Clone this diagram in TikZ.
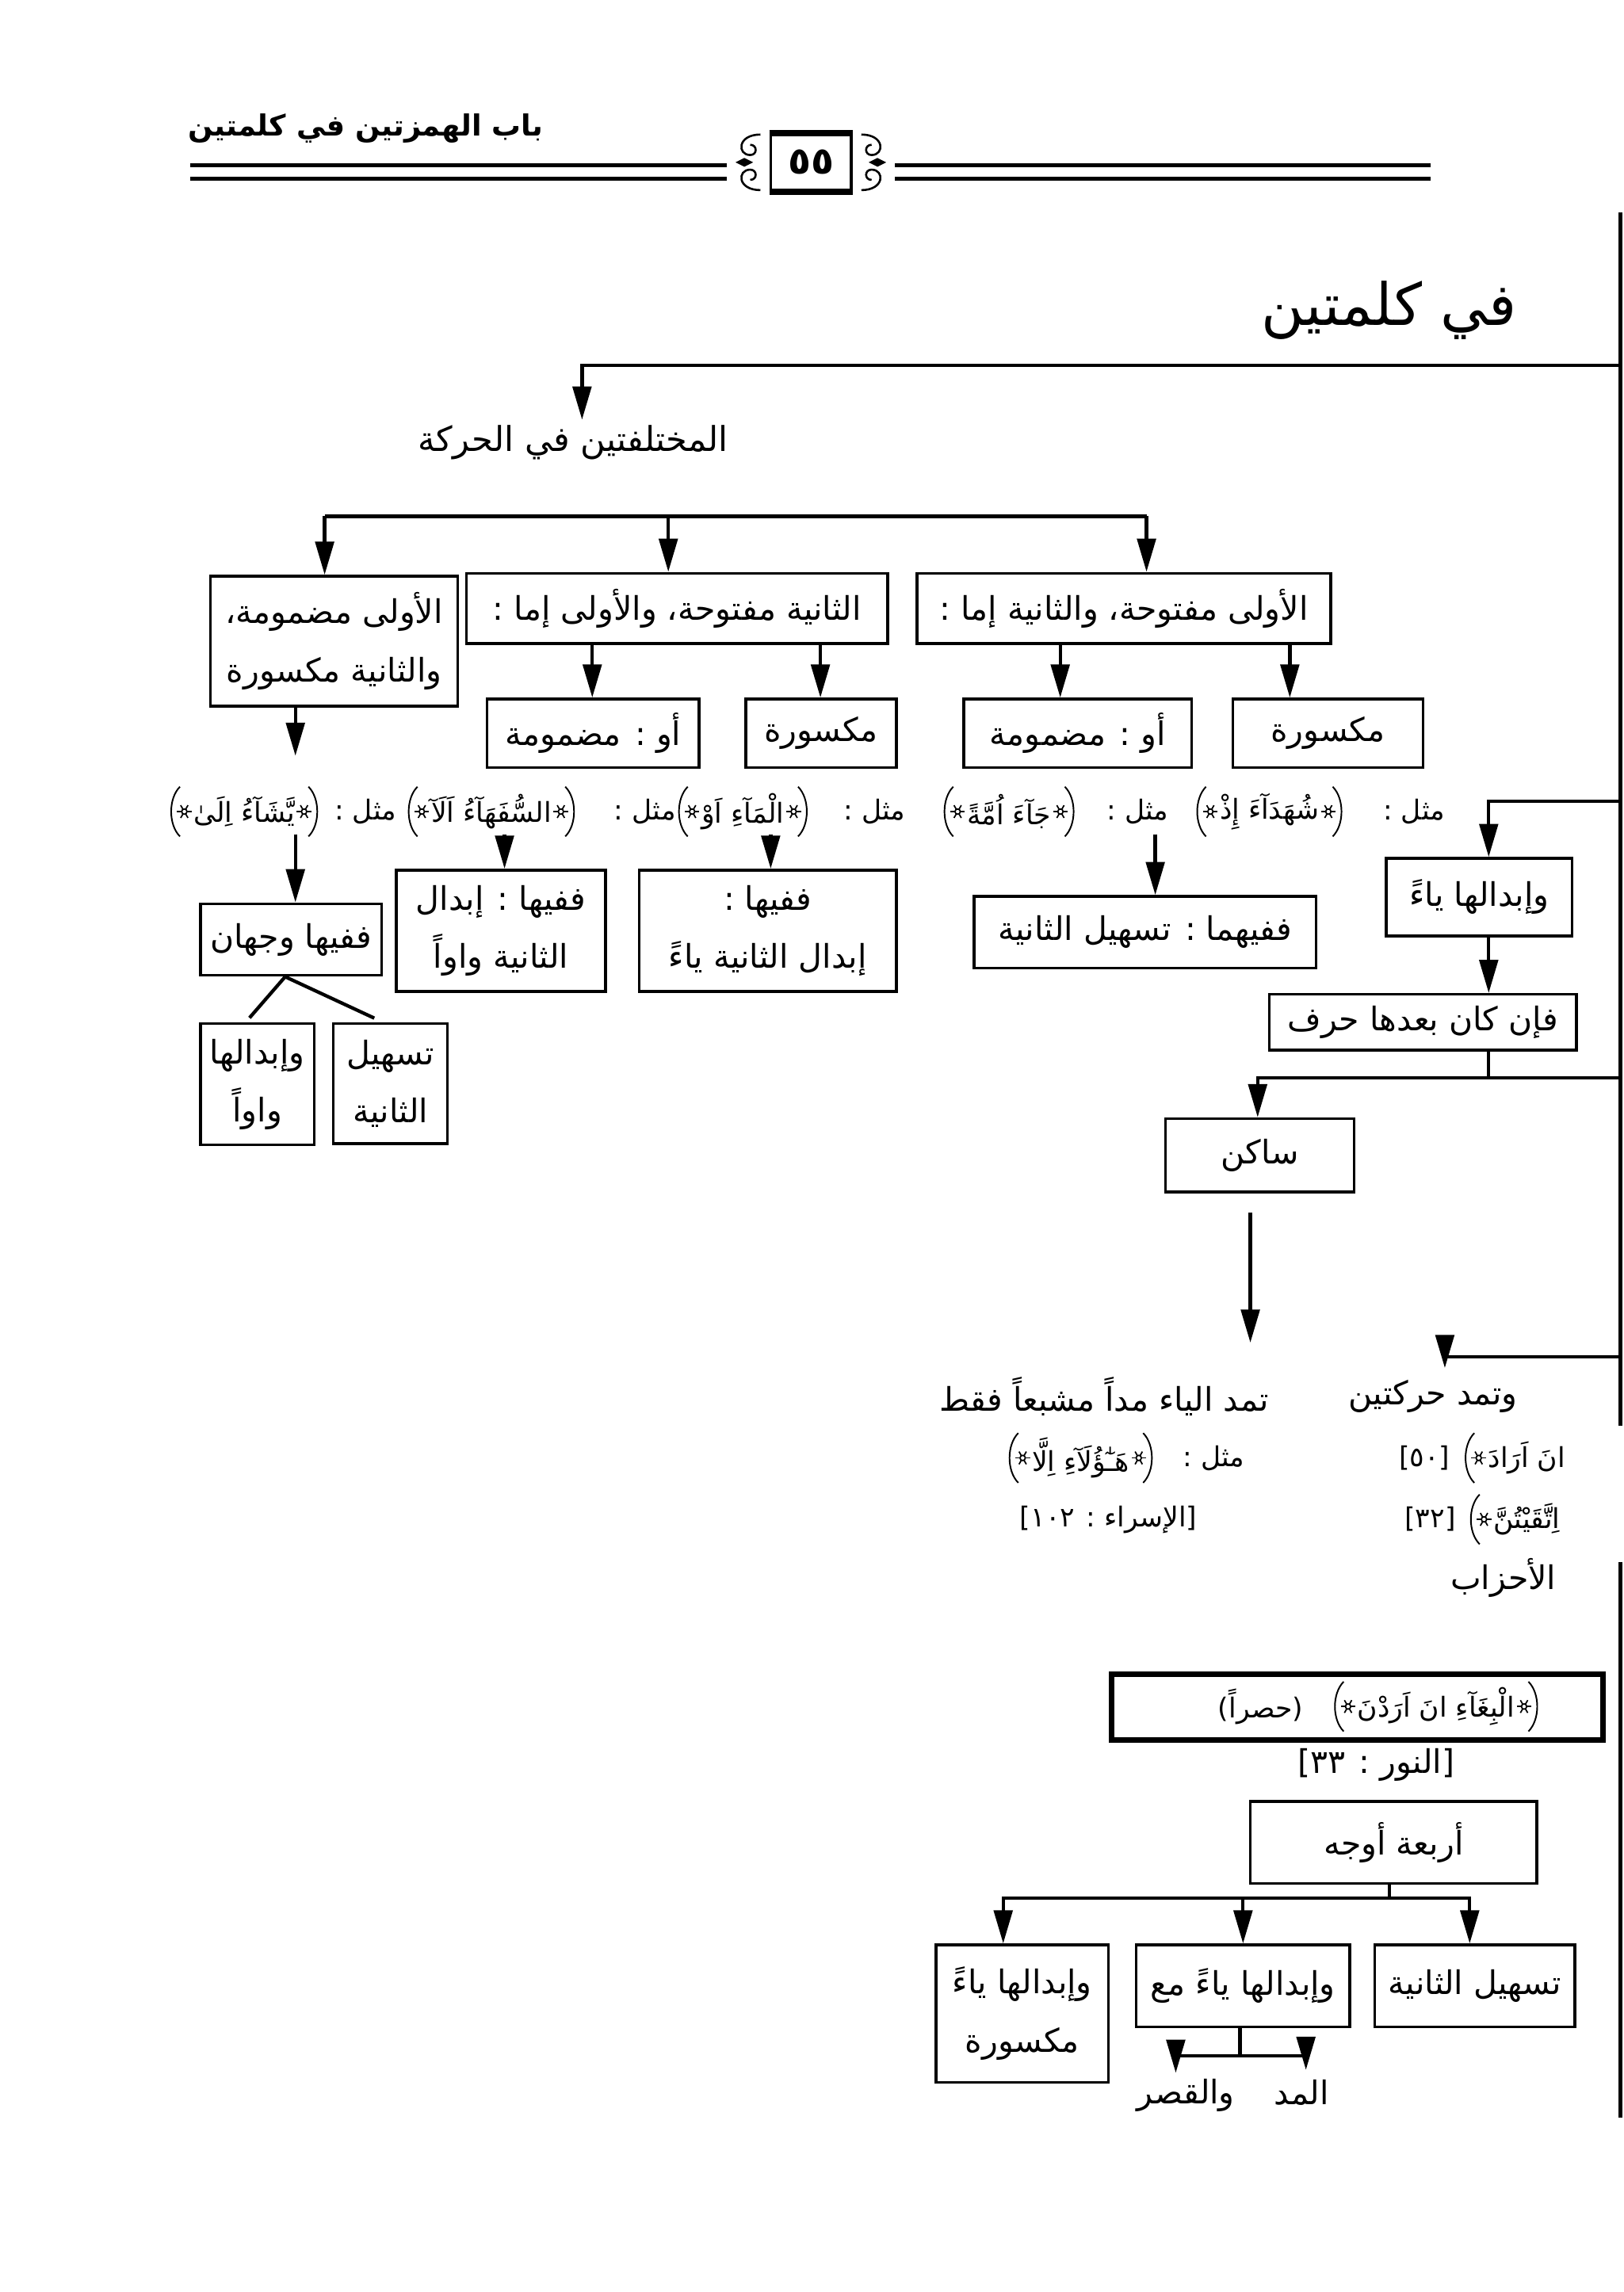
\documentclass[tikz,border=0pt]{standalone}
\usepackage{fontspec}
\usetikzlibrary{arrows.meta}
\TeXXeTstate=1
\newfontfamily\arabicfont[Script=Arabic]{DejaVu Sans}
\newcommand{\ara}[1]{\beginR #1\endR}

\begin{document}
\begin{tikzpicture}[x=0.15mm, y=-0.15mm,
        box/.style={draw, line width=0.8pt, inner sep=1pt, align=center, font=\arabicfont\fontsize{9.5}{17}\selectfont},
        thickbox/.style={box, line width=1.6pt},
        lbl/.style={inner sep=0pt, minimum height=4.5mm, align=center, font=\arabicfont\fontsize{9.5}{16}\selectfont},
        exlbl/.style={lbl, font=\arabicfont\fontsize{8}{12}\selectfont},
        qnode/.style={exlbl, inner xsep=1.8mm},
        arr/.style={-{Triangle[length=3.4mm, width=1.9mm]}, line width=1pt},
        link/.style={line width=1pt},
        % ornate Quran bracket, drawn as a shape
        qbrak/.pic={
            \draw[line width=0.45pt] (3,-17) .. controls (-5,-9) and (-5,9) .. (3,17);
            \draw[line width=0.4pt] (6,0) circle (1.8);
            \foreach \a in {0,60,...,300}
                \draw[line width=0.4pt] (6,0) ++(\a:1.8) -- ++(\a:3.2);
        }
    ]
    \useasboundingbox (0,0) rectangle (1110,1567.4);

    % page header
    \node[inner sep=0pt, anchor=east, font=\arabicfont\bfseries\fontsize{8.5}{11}\selectfont] (head) at (372,88) {\ara{باب الهمزتين في كلمتين}};
    \draw[line width=1.1pt] (130,113) -- (497,113) (130,122) -- (497,122)
        (612,113) -- (978,113) (612,122) -- (978,122);
    \node[draw, line width=0.8pt, minimum width=8.25mm, minimum height=5.7mm, font=\arabicfont\bfseries\fontsize{11}{13}\selectfont] (pnum) at (554.5,111) {\ara{٥٥}};
    \draw[line width=1.8pt] (pnum.north west) -- (pnum.north east) (pnum.south west) -- (pnum.south east);
    \foreach \ox/\s in {512/1, 597/-1}{
        \begin{scope}[shift={(\ox,111)}, xscale=\s, line width=0.6pt]
            \draw (8,-19) .. controls (-8,-19) and (-8,-5) .. (1,-5) .. controls (6,-5) and (6,-12) .. (1,-12);
            \draw (8,19) .. controls (-8,19) and (-8,5) .. (1,5) .. controls (6,5) and (6,12) .. (1,12);
            \fill (-9,0) -- (-3,-3) -- (3,0) -- (-3,3) -- cycle;
        \end{scope}
    }

    % right rule
    \coordinate (r1) at (1108,145);
    \coordinate (r2) at (1108,975);
    \coordinate (r3) at (1108,1068);
    \coordinate (r4) at (1108,1448);
    \draw[link] (r1) -- (r2) (r3) -- (r4);

    \node[inner sep=0pt, font=\arabicfont\fontsize{17}{20}\selectfont] (title) at (950,212) {\ara{في كلمتين}};

    % first level
    \node[lbl, anchor=north, font=\arabicfont\fontsize{10}{16}\selectfont] (mukh) at (392,287) {\ara{المختلفتين في الحركة}};
    \coordinate (j1) at (1108,250);
    \draw[arr] (j1) -| (mukh.north -| 398,0);

    \node[box, minimum width=42.45mm, minimum height=7.2mm] (afath) at (768.5,416) {\ara{الأولى مفتوحة، والثانية إما :}};
    \node[box, minimum width=43.2mm, minimum height=7.2mm] (tfath) at (463,416) {\ara{الثانية مفتوحة، والأولى إما :}};
    \node[box, minimum width=25.35mm, minimum height=13.35mm] (adamm) at (228.5,438.5) {\ara{الأولى مضمومة،}\\\ara{والثانية مكسورة}};

    \coordinate (bl) at (222,353);
    \coordinate (br) at (784,353);
    \draw[link] (bl) -- (br);
    \draw[arr] (bl) -- (bl |- adamm.north);
    \draw[arr] (bl -| 457,0) -- (tfath.north -| 457,0);
    \draw[arr] (br) -- (br |- afath.north);

    \node[box, minimum width=19.5mm, minimum height=7.05mm] (afathK) at (908,501.5) {\ara{مكسورة}};
    \node[box, minimum width=23.4mm, minimum height=7.05mm] (afathD) at (737,501.5) {\ara{أو : مضمومة}};
    \node[box, minimum width=15.45mm, minimum height=7.05mm] (tfathK) at (561.5,501.5) {\ara{مكسورة}};
    \node[box, minimum width=21.75mm, minimum height=7.05mm] (tfathD) at (405.5,501.5) {\ara{أو : مضمومة}};
    \draw[arr] (afath.south -| 882,0) -- (afathK.north -| 882,0);
    \draw[arr] (afath.south -| 725,0) -- (afathD.north -| 725,0);
    \draw[arr] (tfath.south -| 561,0) -- (tfathK.north -| 561,0);
    \draw[arr] (tfath.south -| 405,0) -- (tfathD.north -| 405,0);

    % examples
    \node[exlbl] (m1) at (967,555) {\ara{مثل :}};
    \node[qnode] (q1) at (868,555) {\ara{شُهَدَآءَ إِذْ}};
    \node[exlbl] (m2) at (778,555) {\ara{مثل :}};
    \node[qnode] (q2) at (690,555) {\ara{جَآءَ اُمَّةً}};
    \node[exlbl] (m3) at (598,555) {\ara{مثل :}};
    \node[qnode] (q3) at (508,555) {\ara{الْمَآءِ اَوْ}};
    \node[exlbl] (m4) at (441,555) {\ara{مثل :}};
    \node[qnode] (q4) at (336,555) {\ara{السُّفَهَآءُ اَلَآ}};
    \node[exlbl] (m5) at (250,555) {\ara{مثل :}};
    \node[qnode] (q5) at (167,555) {\ara{يَّشَآءُ اِلَىٰ}};
    \draw[arr, shorten >=3.4mm] (adamm.south -| 202,0) -- (q5.north -| 202,0);

    \node[box, minimum width=35.1mm, minimum height=7.35mm] (tashilA) at (783,637.5) {\ara{ففيهما : تسهيل الثانية}};
    \node[box, minimum width=26.4mm, minimum height=12.45mm] (ibdalY) at (525,636.5) {\ara{ففيها :}\\\ara{إبدال الثانية ياءً}};
    \node[box, minimum width=21.45mm, minimum height=12.45mm] (ibdalW) at (342.5,636.5) {\ara{ففيها : إبدال}\\\ara{الثانية واواً}};
    \node[box, minimum width=18.6mm, minimum height=7.35mm] (wajhan) at (199,642.5) {\ara{ففيها وجهان}};
    \draw[arr] (m2.south -| 790,0) -- (tashilA.north -| 790,0);
    \draw[arr] (q3.south -| 527,0) -- (ibdalY.north -| 527,0);
    \draw[arr] (q4.south -| 345,0) -- (ibdalW.north -| 345,0);
    \draw[arr] (q5.south -| 202,0) -- (wajhan.north -| 202,0);

    \node[box, minimum width=11.7mm, minimum height=12.45mm] (wajW) at (176,741.5) {\ara{وإبدالها}\\\ara{واواً}};
    \node[box, minimum width=11.7mm, minimum height=12.3mm] (wajT) at (267,741) {\ara{تسهيل}\\\ara{الثانية}};
    \draw[link, shorten >=0.6mm] (wajhan.south -| 195,0) -- (wajW.north -| 168,0);
    \draw[link, shorten >=1mm] (wajhan.south -| 195,0) -- (wajT.north -| 262,0);

    % right branch
    \node[box, minimum width=19.05mm, minimum height=7.95mm] (yaa) at (1011.5,613.5) {\ara{وإبدالها ياءً}};
    \node[box, minimum width=31.5mm, minimum height=5.7mm] (harf) at (973,699) {\ara{فإن كان بعدها حرف}};
    \node[box, minimum width=19.35mm, minimum height=7.5mm] (sakin) at (861.5,790) {\ara{ساكن}};
    \coordinate (j2) at (1108,548);
    \coordinate (j3) at (1108,737);
    \coordinate (j4) at (1108,928);
    \draw[arr] (j2) -| (yaa.north -| 1018,0);
    \draw[arr] (yaa.south -| 1018,0) -- (harf.north -| 1018,0);
    \draw[link] (harf.south -| 1018,0) -- (j3 -| 1018,0);
    \draw[arr] (j3) -| (sakin.north -| 860,0);

    \node[lbl] (tamad) at (755,955) {\ara{تمد الياء مداً مشبعاً فقط}};
    \node[lbl] (haraka) at (980,955) {\ara{وتمد حركتين}};
    \draw[arr, shorten <=2mm, shorten >=3.2mm] (sakin.south -| 855,0) -- (tamad.north -| 855,0);
    \draw[arr, shorten >=0.6mm] (j4) -| (haraka.north -| 988,0);

    \node[exlbl] (mHa) at (830,997) {\ara{مثل :}};
    \node[qnode] (qHa) at (739,997) {\ara{هَـٰٓؤُلَآءِ اِلَّا}};
    \node[exlbl] (isra) at (758,1039) {\ara{[الإسراء : \beginL١٠٢\endL]}};
    \node[qnode] (qA) at (1044,997) {\ara{انَ اَرَادَ}};
    \node[exlbl] (nA) at (974,997) {\ara{[\beginL٥٠\endL]}};
    \node[qnode] (qB) at (1044,1039) {\ara{اِتَّقَيْتُنَّ}};
    \node[exlbl] (nB) at (978,1039) {\ara{[\beginL٣٢\endL]}};
    \node[lbl] (ahzab) at (1028,1079) {\ara{الأحزاب}};

    % bottom tree
    \node[thickbox, minimum width=50.4mm, minimum height=6.75mm] (bigha) at (928,1167.5) {};
    \node[qnode] (qBigha) at (982,1167) {\ara{الْبِغَآءِ انَ اَرَدْنَ}};
    \node[exlbl] (hasr) at (862,1167) {\ara{(حصراً)}};
    \node[lbl] (nur) at (941,1207) {\ara{[النور : \beginL٣٣\endL]}};

    % ornate brackets round the Quran words
    \foreach \q in {q1,q2,q3,q4,q5,qHa,qBigha}{
        \pic[xscale=-1] at (\q.east) {qbrak};
        \pic at (\q.west) {qbrak};
    }
    \pic at (qA.west) {qbrak};
    \pic at (qB.west) {qbrak};

    \node[box, minimum width=29.4mm, minimum height=8.4mm] (arbaa) at (953,1260) {\ara{أربعة أوجه}};
    \node[box, minimum width=20.55mm, minimum height=8.4mm] (tashilB) at (1008.5,1358) {\ara{تسهيل الثانية}};
    \node[box, minimum width=21.9mm, minimum height=8.4mm] (maa) at (850,1358) {\ara{وإبدالها ياءً مع}};
    \node[box, minimum width=17.7mm, minimum height=14.1mm] (maks) at (699,1377) {\ara{وإبدالها ياءً}\\\ara{مكسورة}};
    \coordinate (kb) at (950,1298);
    \draw[link] (arbaa.south -| kb) -- (kb);
    \draw[arr] (kb) -| (tashilB.north -| 1005,0);
    \draw[arr] (kb) -| (maa.north -| 850,0);
    \draw[arr] (kb) -| (maks.north -| 686,0);

    \node[lbl] (madd) at (890,1431) {\ara{المد}};
    \node[lbl] (qasr) at (811,1433) {\ara{والقصر}};
    \coordinate (kc) at (848,1406);
    \draw[link] (maa.south -| kc) -- (kc);
    \draw[arr] (kc) -| (madd.north -| 893,0);
    \draw[arr] (kc) -| (qasr.north -| 804,0);

\end{tikzpicture}
\end{document}
